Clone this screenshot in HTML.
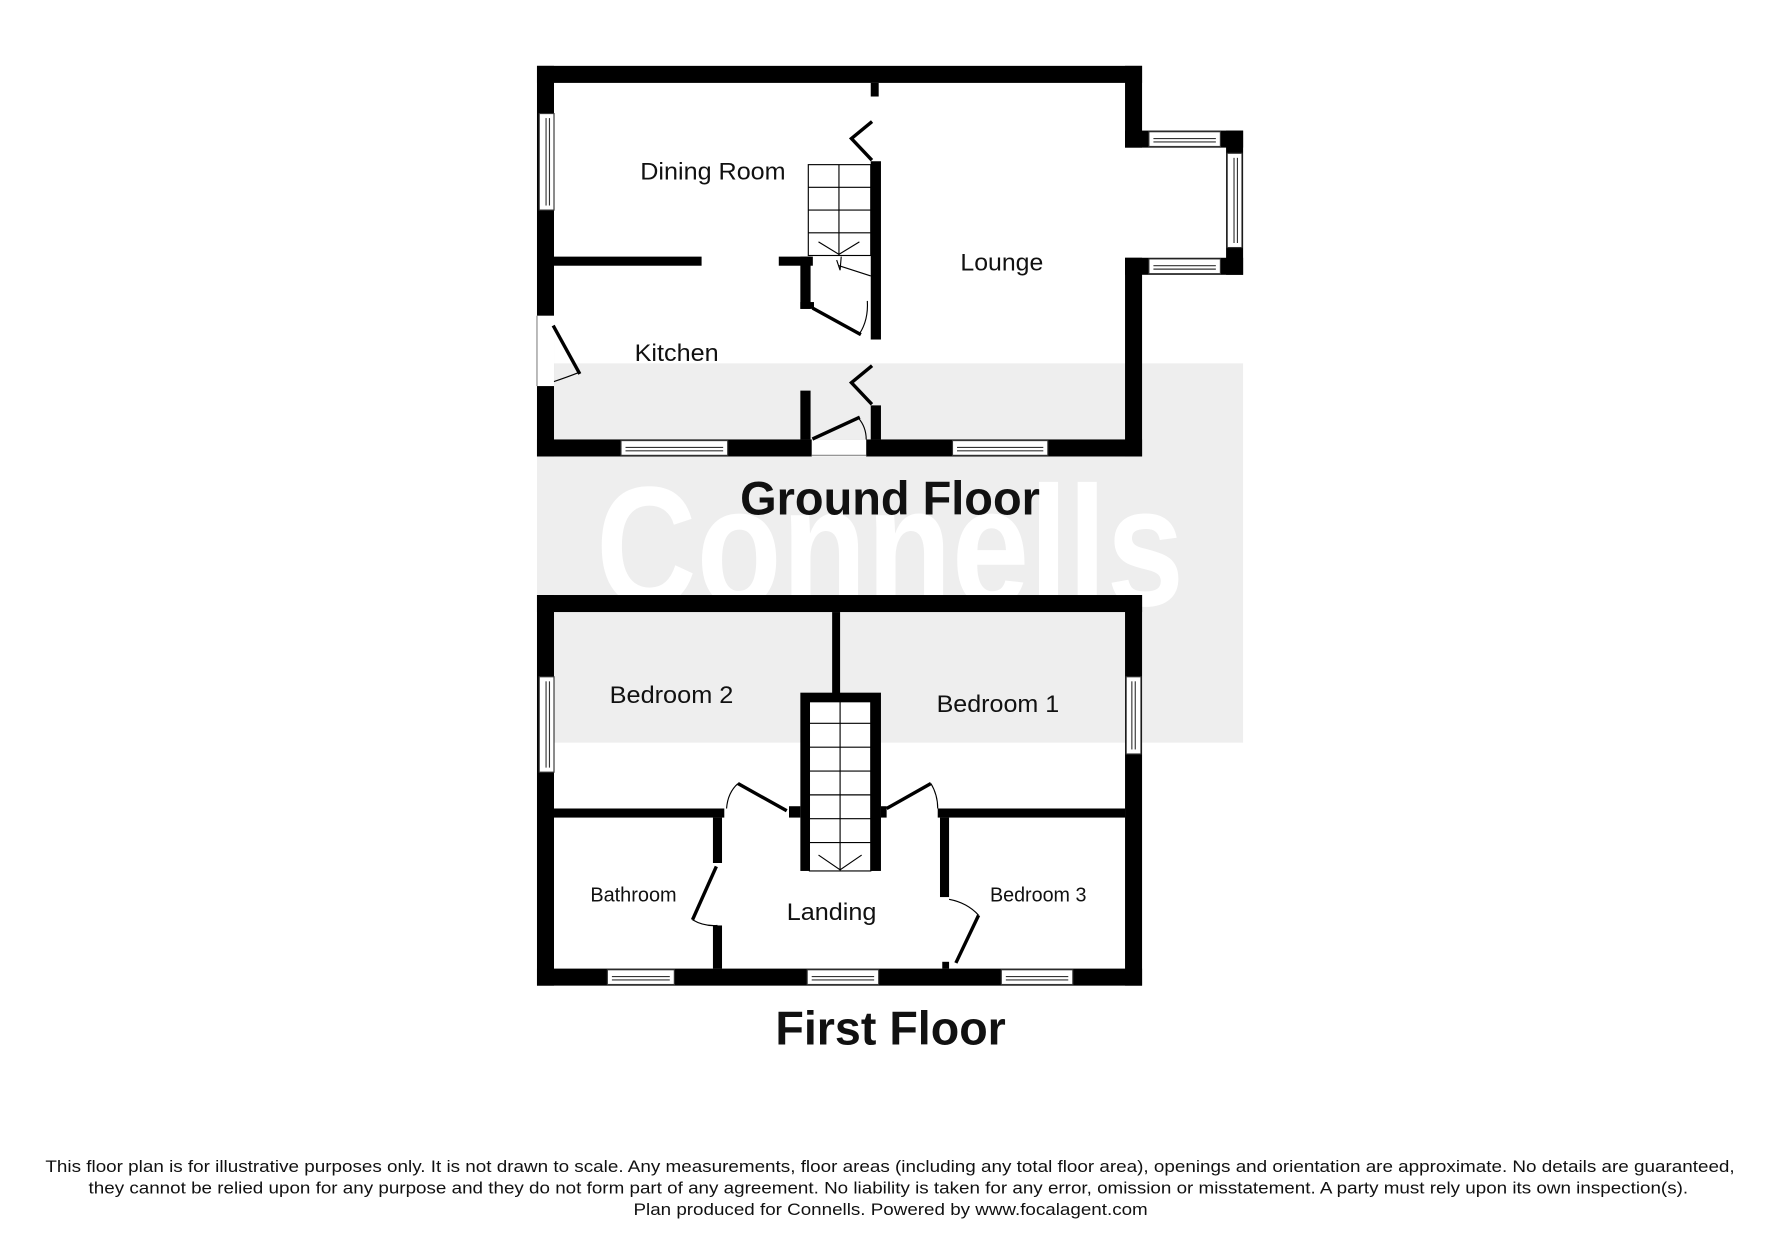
<!DOCTYPE html>
<html><head><meta charset="utf-8"><style>
html,body{margin:0;padding:0;background:#fff;}
svg{display:block;}
text{font-family:"Liberation Sans",Arial,sans-serif;fill:#111;}
</style></head><body>
<svg width="1771" height="1240" viewBox="0 0 1560 1092" preserveAspectRatio="none" xmlns="http://www.w3.org/2000/svg">
<rect x="0" y="0" width="1560" height="1092" fill="#fff"/>
<rect x="473" y="320" width="622" height="334" fill="#eeeeee"/>
<text x="525" y="533" font-size="150" font-weight="bold" style="fill:#fff" textLength="518" lengthAdjust="spacingAndGlyphs">Connells</text>

<g fill="#000">
<rect x="473" y="58" width="533" height="15"/>
<rect x="473" y="58" width="15" height="344"/>
<rect x="473" y="387" width="533" height="15"/>
<rect x="991" y="58" width="15" height="72"/>
<rect x="991" y="115" width="104" height="15"/>
<rect x="1080" y="115" width="15" height="127"/>
<rect x="991" y="227" width="104" height="15"/>
<rect x="991" y="227" width="15" height="175"/>
<rect x="767" y="73" width="7" height="12"/>
<rect x="767" y="142" width="9" height="157"/>
<rect x="488" y="226" width="130" height="8"/>
<rect x="686" y="226" width="30" height="8"/>
<rect x="705" y="226" width="9" height="46"/>
<rect x="705" y="266" width="12" height="6"/>
<rect x="705" y="344" width="9" height="43"/>
<rect x="767" y="357" width="9" height="30"/>
</g>
<g fill="#fff" stroke="#333" stroke-width="1">
<rect x="475" y="100" width="13" height="85"/>
<rect x="1012" y="116" width="63" height="13"/>
<rect x="1081" y="135" width="13" height="83"/>
<rect x="1012" y="228" width="63" height="13"/>
<rect x="547" y="388" width="94" height="13"/>
<rect x="839" y="388" width="84" height="13"/>
</g>
<g stroke="#333" stroke-width="1" fill="none">
<line x1="481" y1="104" x2="481" y2="181"/><line x1="484" y1="104" x2="484" y2="181"/>
<line x1="1016" y1="122" x2="1071" y2="122"/><line x1="1016" y1="125" x2="1071" y2="125"/>
<line x1="1087" y1="139" x2="1087" y2="214"/><line x1="1090" y1="139" x2="1090" y2="214"/>
<line x1="1016" y1="234" x2="1071" y2="234"/><line x1="1016" y1="237" x2="1071" y2="237"/>
<line x1="551" y1="394" x2="637" y2="394"/><line x1="551" y1="397" x2="637" y2="397"/>
<line x1="843" y1="394" x2="919" y2="394"/><line x1="843" y1="397" x2="919" y2="397"/>
</g>
<rect x="473" y="278" width="15" height="62" fill="#fff"/>
<rect x="715" y="387" width="48" height="15" fill="#fff"/>
<g stroke="#888" stroke-width="1" fill="none">
<line x1="473" y1="278" x2="473" y2="340"/>
<line x1="715" y1="401" x2="763" y2="401"/>
</g>
<g stroke="#000" stroke-width="3" fill="none" stroke-linecap="square">
<polyline points="767,108 750,122 767,140"/>
<polyline points="767,323 750,337 767,355"/>
<line x1="488" y1="288" x2="510" y2="328"/>
<line x1="717" y1="272" x2="757" y2="294"/>
<line x1="717" y1="386" x2="756" y2="368"/>
</g>
<g stroke="#000" stroke-width="1" fill="none">
<path d="M488,336 Q500,332 510,328"/>
<path d="M757,294 Q765,282 764,265"/>
<path d="M756,368 Q763,376 763,387"/>
<rect x="712" y="145" width="55" height="80"/>
<line x1="739" y1="145" x2="739" y2="225"/>
<line x1="712" y1="165" x2="767" y2="165"/>
<line x1="712" y1="185" x2="767" y2="185"/>
<line x1="712" y1="205" x2="767" y2="205"/>
<polyline points="721,213 739,224 757,213"/>
<line x1="739" y1="234" x2="767" y2="243"/>
<path d="M737,229 L740,238 L741,226"/>
</g>

<text x="564" y="158" font-size="21" textLength="128" lengthAdjust="spacingAndGlyphs">Dining Room</text>
<text x="846" y="238" font-size="21" textLength="73" lengthAdjust="spacingAndGlyphs">Lounge</text>
<text x="559" y="318" font-size="21" textLength="74" lengthAdjust="spacingAndGlyphs">Kitchen</text>
<text x="652" y="453" font-size="42" font-weight="bold" textLength="264" lengthAdjust="spacingAndGlyphs">Ground Floor</text>

<g fill="#000">
<rect x="473" y="524" width="533" height="15"/>
<rect x="473" y="524" width="15" height="344"/>
<rect x="473" y="853" width="533" height="15"/>
<rect x="991" y="524" width="15" height="344"/>
<rect x="733" y="539" width="7" height="72"/>
<rect x="705" y="610" width="71" height="157"/>
<rect x="488" y="712" width="150" height="8"/>
<rect x="826" y="712" width="165" height="8"/>
<rect x="628" y="720" width="8" height="40"/>
<rect x="628" y="815" width="8" height="38"/>
<rect x="828" y="720" width="8" height="70"/>
<rect x="830" y="847" width="6" height="6"/>
<rect x="695" y="710" width="10" height="10"/>
<rect x="776" y="710" width="5" height="10"/>
</g>
<rect x="713" y="618" width="54" height="149" fill="#fff" stroke="#000" stroke-width="1"/>
<g stroke="#000" stroke-width="1" fill="none">
<line x1="740" y1="618" x2="740" y2="767"/>
<line x1="713" y1="637" x2="767" y2="637"/>
<line x1="713" y1="658" x2="767" y2="658"/>
<line x1="713" y1="679" x2="767" y2="679"/>
<line x1="713" y1="700" x2="767" y2="700"/>
<line x1="713" y1="721" x2="767" y2="721"/>
<line x1="713" y1="742" x2="767" y2="742"/>
<polyline points="721,753 740,766 759,753"/>
</g>
<g fill="#fff" stroke="#333" stroke-width="1">
<rect x="475" y="596" width="13" height="84"/>
<rect x="992" y="596" width="13" height="68"/>
<rect x="535" y="854" width="59" height="13"/>
<rect x="711" y="854" width="63" height="13"/>
<rect x="882" y="854" width="63" height="13"/>
</g>
<g stroke="#333" stroke-width="1" fill="none">
<line x1="481" y1="600" x2="481" y2="676"/><line x1="484" y1="600" x2="484" y2="676"/>
<line x1="997" y1="600" x2="997" y2="660"/><line x1="1000" y1="600" x2="1000" y2="660"/>
<line x1="539" y1="860" x2="590" y2="860"/><line x1="539" y1="863" x2="590" y2="863"/>
<line x1="715" y1="860" x2="770" y2="860"/><line x1="715" y1="863" x2="770" y2="863"/>
<line x1="886" y1="860" x2="941" y2="860"/><line x1="886" y1="863" x2="941" y2="863"/>
</g>
<g stroke="#000" stroke-width="3" fill="none">
<line x1="650" y1="690" x2="693" y2="714"/>
<line x1="781" y1="712" x2="820" y2="690"/>
<line x1="631" y1="763" x2="610" y2="810"/>
<line x1="862" y1="806" x2="842" y2="848"/>
</g>
<g stroke="#000" stroke-width="1" fill="none">
<path d="M640,712 Q641,698 650,690"/>
<path d="M820,690 Q826,700 826,712"/>
<path d="M610,810 Q620,816 632,815"/>
<path d="M836,792 Q852,795 862,806"/>
</g>

<text x="537" y="619" font-size="21" textLength="109" lengthAdjust="spacingAndGlyphs">Bedroom 2</text>
<text x="825" y="627" font-size="21" textLength="108" lengthAdjust="spacingAndGlyphs">Bedroom 1</text>
<text x="520" y="794" font-size="18" textLength="76" lengthAdjust="spacingAndGlyphs">Bathroom</text>
<text x="693" y="810" font-size="21" textLength="79" lengthAdjust="spacingAndGlyphs">Landing</text>
<text x="872" y="794" font-size="18" textLength="85" lengthAdjust="spacingAndGlyphs">Bedroom 3</text>
<text x="683" y="920" font-size="42" font-weight="bold" textLength="203" lengthAdjust="spacingAndGlyphs">First Floor</text>

<text x="40" y="1032" font-size="15" textLength="1488" lengthAdjust="spacingAndGlyphs">This floor plan is for illustrative purposes only. It is not drawn to scale. Any measurements, floor areas (including any total floor area), openings and orientation are approximate. No details are guaranteed,</text>
<text x="78" y="1051" font-size="15" textLength="1409" lengthAdjust="spacingAndGlyphs">they cannot be relied upon for any purpose and they do not form part of any agreement. No liability is taken for any error, omission or misstatement. A party must rely upon its own inspection(s).</text>
<text x="558" y="1070" font-size="15" textLength="453" lengthAdjust="spacingAndGlyphs">Plan produced for Connells. Powered by www.focalagent.com</text>
</svg>
</body></html>
